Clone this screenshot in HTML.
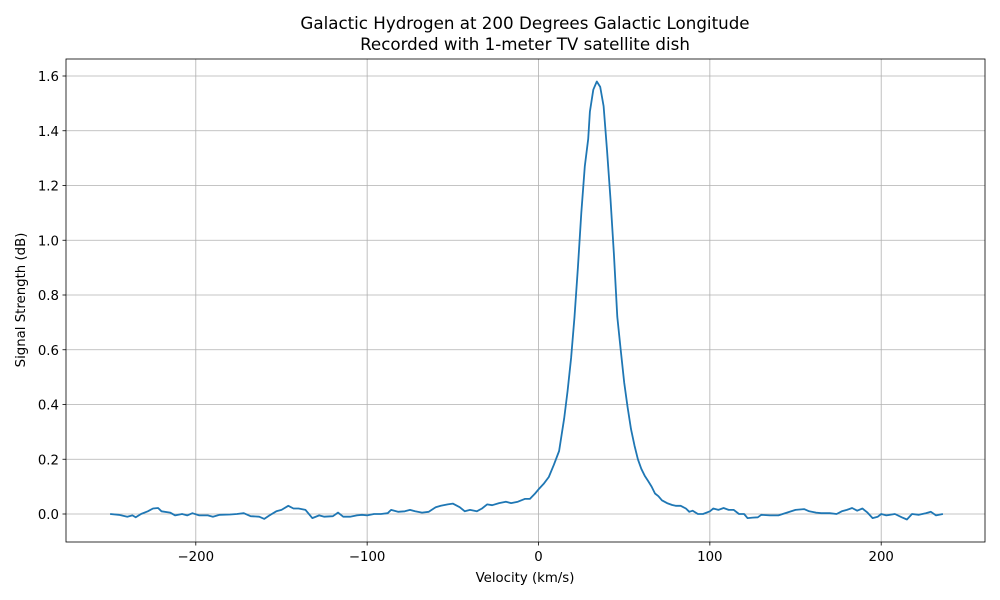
<!DOCTYPE html>
<html><head><meta charset="utf-8">
<style>body{margin:0;background:#fff}svg{display:block}text{font-family:"DejaVu Sans","Liberation Sans",sans-serif;fill:#000}</style>
</head><body>
<svg id="s" width="1000" height="600" xmlns="http://www.w3.org/2000/svg">
<rect width="1000" height="600" fill="#fff"/>
<g id="grid" stroke="#b0b0b0" stroke-width="0.8"></g>
<polyline id="line" fill="none" stroke="#1f77b4" stroke-width="1.8" stroke-linejoin="round"/>
<rect x="66" y="59" width="919" height="483" fill="none" stroke="#000" stroke-width="0.8"/>
<g id="ticks" stroke="#000" stroke-width="0.8"></g>
<g id="labels" font-size="13.3"></g>
<text x="525" y="29" font-size="16.7" text-anchor="middle">Galactic Hydrogen at 200 Degrees Galactic Longitude</text>
<text x="525" y="50" font-size="16.7" text-anchor="middle">Recorded with 1-meter TV satellite dish</text>
<text x="525" y="582" font-size="13.3" text-anchor="middle">Velocity (km/s)</text>
<text transform="translate(25,300) rotate(-90)" font-size="13.3" text-anchor="middle">Signal Strength (dB)</text>
</svg>
<script>
var X=function(v){return 538.5+v*1.7135;},Y=function(v){return 514-v*273.75;};
var ns="http://www.w3.org/2000/svg",g=document.getElementById('grid'),t=document.getElementById('ticks'),l=document.getElementById('labels');
function el(p,tag,a,txt){var e=document.createElementNS(ns,tag);for(var k in a)e.setAttribute(k,a[k]);if(txt!=null)e.textContent=txt;p.appendChild(e);}
[-200,-100,0,100,200].forEach(function(v){var x=X(v);el(g,'line',{x1:x,x2:x,y1:59,y2:542});el(t,'line',{x1:x,x2:x,y1:542,y2:545.5});el(l,'text',{x:x,y:561,'text-anchor':'middle'},(v<0?'\u2212'+(-v):v));});
for(var i=0;i<=8;i++){var v=i*0.2,y=Y(v);el(g,'line',{x1:66,x2:985,y1:y,y2:y});el(t,'line',{x1:62.5,x2:66,y1:y,y2:y});el(l,'text',{x:59,y:y+5,'text-anchor':'end'},v.toFixed(1));}
var d=[-250,0,-245,-0.003,-240,-0.01,-237,-0.005,-235,-0.012,-232,0,-228,0.01,-225,0.02,-222,0.022,-220,0.01,-215,0.005,-212,-0.005,-208,0,-205,-0.005,-202,0.003,-198,-0.005,-193,-0.005,-190,-0.01,-186,-0.003,-180,-0.002,-176,0,-172,0.003,-168,-0.008,-163,-0.01,-160,-0.018,-157,-0.005,-153,0.01,-150,0.015,-146,0.03,-143,0.02,-140,0.02,-136,0.015,-132,-0.015,-128,-0.005,-125,-0.01,-120,-0.008,-117,0.005,-114,-0.01,-110,-0.01,-106,-0.005,-103,-0.003,-100,-0.005,-96,0,-92,0,-88,0.003,-86,0.015,-82,0.008,-78,0.01,-75,0.015,-72,0.01,-68,0.005,-64,0.008,-60,0.025,-57,0.03,-53,0.035,-50,0.038,-46,0.025,-43,0.01,-40,0.015,-36,0.01,-33,0.02,-30,0.035,-27,0.032,-23,0.04,-19,0.045,-16,0.04,-12,0.045,-8,0.055,-5,0.055,-2,0.075,0,0.09,3,0.11,6,0.135,9,0.18,12,0.23,15,0.35,17,0.45,19,0.57,21,0.72,23,0.9,25,1.1,27,1.27,29,1.37,30,1.47,32,1.55,34,1.58,36,1.56,38,1.49,40,1.33,42,1.15,44,0.95,46,0.72,48,0.6,50,0.48,52,0.39,54,0.31,56,0.25,58,0.2,60,0.165,62,0.14,64,0.12,66,0.1,68,0.075,70,0.065,72,0.05,75,0.04,78,0.033,80,0.03,83,0.03,86,0.02,88,0.008,90,0.012,93,0,96,0,100,0.01,102,0.02,105,0.015,108,0.022,111,0.015,114,0.015,117,0,120,0,122,-0.015,125,-0.013,128,-0.012,130,-0.003,135,-0.005,140,-0.005,145,0.005,150,0.015,155,0.018,158,0.01,162,0.005,165,0.003,170,0.003,174,0,177,0.01,180,0.015,183,0.022,186,0.012,189,0.02,192,0.005,195,-0.015,198,-0.01,200,0,203,-0.005,208,0,212,-0.012,215,-0.02,218,0,222,-0.003,226,0.003,229,0.008,232,-0.005,236,0];
var p=[];for(var i=0;i<d.length;i+=2)p.push(X(d[i]).toFixed(1)+','+Y(d[i+1]).toFixed(1));
document.getElementById('line').setAttribute('points',p.join(' '));
</script>
</body></html>
